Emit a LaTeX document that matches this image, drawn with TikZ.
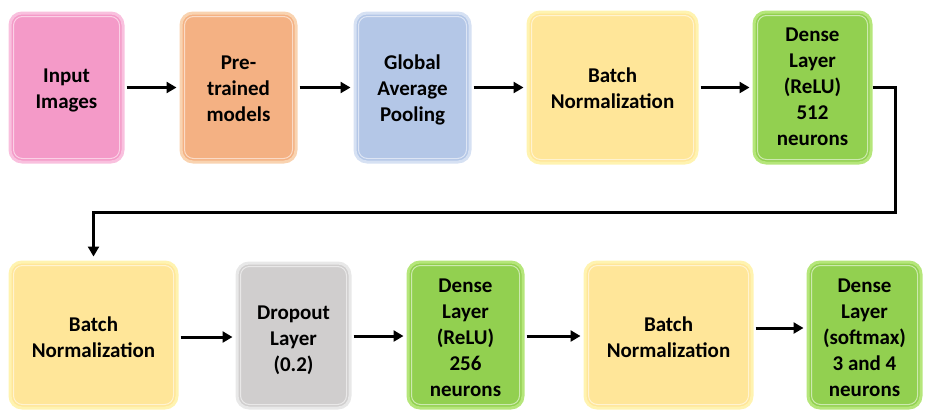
\documentclass[tikz,border=0pt]{standalone}
\usepackage{fontspec}
\setmainfont{Carlito}
\usetikzlibrary{arrows.meta,calc}
\definecolor{pinkf}{HTML}{F49AC8}
\definecolor{pinkd}{HTML}{F9C0DE}
\definecolor{orangef}{HTML}{F4B183}
\definecolor{oranged}{HTML}{F9D3B0}
\definecolor{bluef}{HTML}{B4C7E7}
\definecolor{blued}{HTML}{D6E1F3}
\definecolor{yellowf}{HTML}{FFE699}
\definecolor{yellowd}{HTML}{FFF3B0}
\definecolor{greenf}{HTML}{92D050}
\definecolor{greend}{HTML}{B5E67A}
\definecolor{grayf}{HTML}{D0CECE}
\definecolor{grayd}{HTML}{E8E8E8}
\newcommand\topstrut{\rule{0pt}{25pt}}
\newcommand\topstrutA{\rule{0pt}{21pt}}
\tikzset{
  x=1pt,y=-1pt,
  boxn/.style={rounded corners=12pt, line width=3pt, align=center,
    font=\fontsize{21}{26}\selectfont\bfseries, text=black, inner sep=0pt,
    execute at end node={\rule[-6pt]{0pt}{6pt}}},
  arr/.style={line width=3pt, -{Triangle[length=10pt,width=11pt]}},
  inset/.style={rounded corners=9pt, draw=white, opacity=0.55, line width=1pt}
}
\begin{document}
\begin{tikzpicture}
\useasboundingbox (0,0) rectangle (925,410);
% top row
\node[boxn, fill=pinkf, draw=pinkd, minimum width=113pt, minimum height=149pt] (in) at (66.5,87.5) {\topstrutA Input\\Images};
\node[boxn, fill=orangef, draw=oranged, minimum width=115pt, minimum height=149pt] (pt) at (238.5,87.5) {\topstrutA Pre-\\trained\\models};
\node[boxn, fill=bluef, draw=blued, minimum width=115pt, minimum height=149pt] (gap) at (412.5,87.5) {\topstrutA Global\\Average\\Pooling};
\node[boxn, fill=yellowf, draw=yellowd, minimum width=169pt, minimum height=151pt] (bn1) at (612.5,87.5) {\topstrutA Batch\\Normalization};
\node[boxn, fill=greenf, draw=greend, minimum width=117pt, minimum height=151pt] (d1) at (812.5,87.5) {\rule{0pt}{18pt}Dense\\Layer\\(ReLU)\\512\\neurons};
% bottom row
\node[boxn, fill=yellowf, draw=yellowd, minimum width=167pt, minimum height=146pt] (bn2) at (93.5,335) {\topstrut Batch\\Normalization};
\node[boxn, fill=grayf, draw=grayd, minimum width=113pt, minimum height=145pt] (dr) at (293.5,335.5) {\topstrut Dropout\\Layer\\(0.2)};
\node[boxn, fill=greenf, draw=greend, minimum width=115pt, minimum height=146pt] (d2) at (465.5,335) {\topstrut Dense\\Layer\\(ReLU)\\256\\neurons};
\node[boxn, fill=yellowf, draw=yellowd, minimum width=167pt, minimum height=146pt] (bn3) at (668.5,335) {\topstrut Batch\\Normalization};
\node[boxn, fill=greenf, draw=greend, minimum width=113pt, minimum height=146pt] (d3) at (864.5,335) {\topstrut Dense\\Layer\\(softmax)\\3 and 4\\neurons};
% inner highlights
\foreach \n in {in,pt,gap,bn1,d1,bn2,dr,d2,bn3,d3}{
  \draw[inset] ($(\n.south west)+(5pt,5pt)$) rectangle ($(\n.north east)+(-5pt,-5pt)$);
}
% arrows
\draw[arr] (in.east)++(2,0) -- ($(pt.west)+(-3,0)$);
\draw[arr] (pt.east)++(2,0) -- ($(gap.west)+(-3,0)$);
\draw[arr] (gap.east)++(2,0) -- ($(bn1.west)+(-3,0)$);
\draw[arr] (bn1.east)++(2,0) -- ($(d1.west)+(-3,0)$);
\coordinate (c1) at (895,212);
\draw[arr] (d1.east) -| (c1) -| ($(bn2.north)+(0,-4)$);
\draw[arr] ($(bn2.east)+(2,2)$) -- ($(dr.west)+(-3,1.5)$);
\draw[arr] ($(dr.east)+(2,0.5)$) -- ($(d2.west)+(-3,1)$);
\draw[arr] ($(d2.east)+(2,1)$) -- ($(bn3.west)+(-3,1)$);
\coordinate (a4) at (0,328);
\draw[arr] (bn3.east |- a4) ++(2,0) -- ($(d3.west |- a4)+(-3,0)$);
\end{tikzpicture}
\end{document}
